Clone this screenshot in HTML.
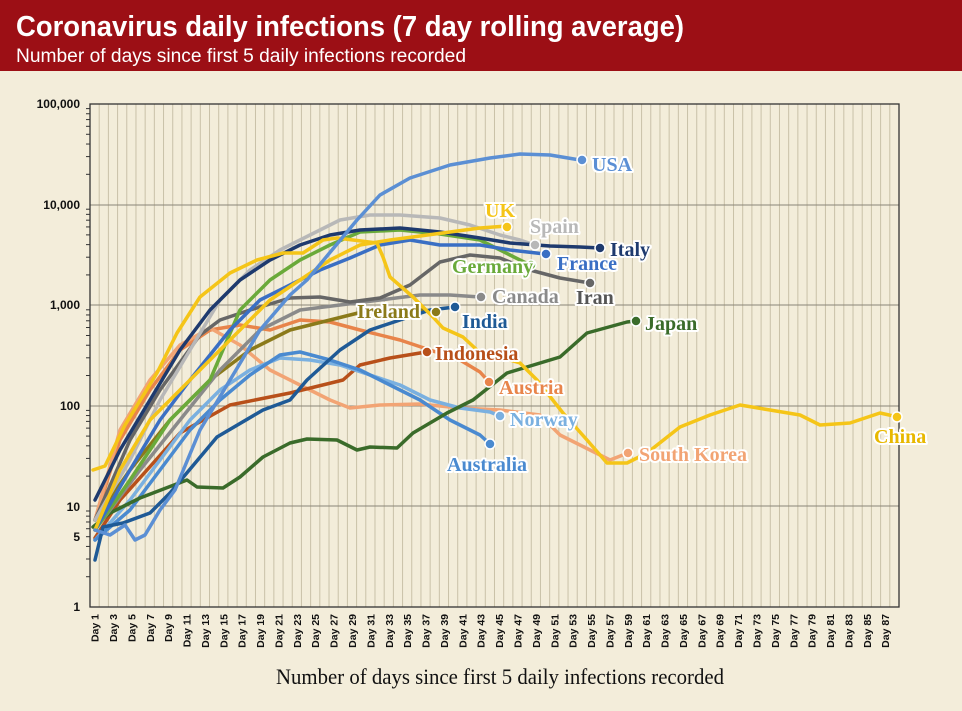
<!DOCTYPE html>
<html><head><meta charset="utf-8"><style>
body{margin:0;width:962px;height:706px;overflow:hidden;background:#f3edda;font-family:"Liberation Sans",sans-serif}
</style></head><body>
<svg width="962" height="706" xmlns="http://www.w3.org/2000/svg">
<rect width="962" height="706" fill="#f3edda"/>
<rect width="962" height="71" fill="#9c0f15"/>
<text x="16" y="36" fill="#fff" font-family="Liberation Sans" font-weight="bold" font-size="29" textLength="668" lengthAdjust="spacingAndGlyphs">Coronavirus daily infections (7 day rolling average)</text>
<text x="16" y="62" fill="#fff" font-family="Liberation Sans" font-size="19" textLength="450" lengthAdjust="spacingAndGlyphs">Number of days since first 5 daily infections recorded</text>
<g id="grid" stroke="#c9c1a8" stroke-width="1"></g>
<g stroke="#8a8578" stroke-width="1">
<line x1="90" y1="104" x2="899" y2="104"/><line x1="90" y1="205" x2="899" y2="205"/>
<line x1="90" y1="305" x2="899" y2="305"/><line x1="90" y1="406" x2="899" y2="406"/>
<line x1="90" y1="506" x2="899" y2="506"/>
</g>
<rect x="90" y="104" width="809" height="503" fill="none" stroke="#333" stroke-width="1.3"/>
<g id="ticks" stroke="#333" stroke-width="1"></g>
<g font-family="Liberation Sans" font-weight="bold" font-size="12" fill="#111" text-anchor="end">
<text x="80" y="108">100,000</text><text x="80" y="209">10,000</text><text x="80" y="309">1,000</text>
<text x="80" y="410">100</text><text x="80" y="511">10</text><text x="80" y="541">5</text><text x="80" y="611">1</text>
</g>
<g id="days" font-family="Liberation Sans" font-weight="bold" font-size="10.5" fill="#111" text-anchor="end"></g>
<text x="500" y="684" text-anchor="middle" font-family="Liberation Serif" font-size="22" fill="#111" textLength="448" lengthAdjust="spacingAndGlyphs">Number of days since first 5 daily infections recorded</text>
<g fill="none" stroke-width="3.5" stroke-linejoin="round" stroke-linecap="round">
<polyline stroke="#e8844a" points="95,520 120,440 150,390 180,350 210,330 240,325 270,330 300,320 330,322 360,330 400,340 430,350 460,360 480,372 489,382"/>
<polyline stroke="#f2a474" points="95,520 120,430 150,380 180,345 210,328 240,345 270,370 300,385 330,400 350,408 380,405 420,404 460,408 500,410 540,415 560,435 590,450 610,460 628,453"/>
<polyline stroke="#b8501a" points="95,538 120,500 147,470 180,433 230,405 290,393 343,380 360,365 390,358 426,352"/>
<polyline stroke="#8b7a1a" points="95,520 130,470 170,420 210,380 250,350 290,330 330,320 370,310 400,312 420,310 436,311"/>
<polyline stroke="#7ab0e0" points="95,540 130,500 160,460 190,420 220,390 250,370 280,358 310,360 340,365 370,375 400,385 430,400 460,408 490,412 500,416"/>
<polyline stroke="#4a8ad0" points="95,540 130,510 160,470 190,430 220,400 250,375 280,355 300,352 330,360 360,370 390,385 420,400 450,420 480,435 490,444"/>
<polyline stroke="#3a6b2a" points="93,527 110,513 140,498 187,480 197,487 223,488 240,477 263,457 290,443 307,439 337,440 357,450 370,447 397,448 413,433 447,413 473,400 507,373 560,357 587,333 627,322 636,321"/>
<polyline stroke="#1f5a96" points="95,560 103,527 123,523 150,513 170,493 217,437 263,410 290,400 307,380 340,350 370,330 400,320 430,310 455,307"/>
<polyline stroke="#8a8a8a" points="95,530 140,470 180,420 220,370 260,330 300,310 340,305 380,300 420,295 450,295 480,297"/>
<polyline stroke="#666" points="95,520 130,440 160,390 200,335 220,320 250,310 290,298 320,297 350,302 380,298 410,285 440,262 470,255 500,258 530,270 560,278 590,283"/>
<polyline stroke="#6aaa3a" points="95,530 130,480 170,420 210,380 240,310 270,280 300,260 330,245 360,232 400,230 440,234 480,240 510,255 530,265"/>
<polyline stroke="#3a6fc4" points="95,530 130,470 160,420 190,380 230,330 260,300 290,285 320,270 350,258 380,245 410,240 440,245 480,245 510,250 545,254"/>
<polyline stroke="#b8b8b8" points="95,520 130,460 160,400 190,350 220,300 250,270 280,250 310,235 340,220 370,215 400,215 440,218 470,225 500,235 520,240 535,245"/>
<polyline stroke="#1e3a6e" points="95,500 120,450 150,400 180,350 210,310 240,280 270,260 300,245 330,235 360,230 400,228 440,232 480,238 510,243 550,246 580,247 600,248"/>
<polyline stroke="#f5c518" points="93,470 105,466 125,425 157,373 177,333 200,297 230,273 257,260 283,253 303,253 323,240 337,238 377,243 383,257 390,277 413,297 433,317 443,328 463,337 477,350 520,363 537,380 563,413 587,440 607,463 627,463 647,453 680,427 710,415 740,405 770,410 800,415 820,425 850,423 880,413 898,417"/>
<polyline stroke="#f5c518" points="95,530 120,470 150,420 180,390 210,360 240,330 270,300 300,280 330,260 360,245 390,240 420,236 450,232 480,228 507,226"/>
<polyline stroke="#5b8fd4" points="95,530 110,535 125,525 135,540 145,535 160,510 175,490 200,430 230,380 260,330 290,295 307,280 357,220 380,195 410,178 450,165 490,158 520,154 550,155 580,160"/>
</g>
<g stroke="#fff" stroke-width="1.5">
<circle cx="582" cy="160" r="5" fill="#5b8fd4"/><circle cx="507" cy="227" r="5" fill="#f5c518"/>
<circle cx="535" cy="245" r="5" fill="#b8b8b8"/><circle cx="600" cy="248" r="5" fill="#1e3a6e"/>
<circle cx="546" cy="254" r="5" fill="#3a6fc4"/><circle cx="531" cy="265" r="5" fill="#6aaa3a"/>
<circle cx="590" cy="283" r="5" fill="#666"/><circle cx="481" cy="297" r="5" fill="#8a8a8a"/>
<circle cx="436" cy="312" r="5" fill="#8b7a1a"/><circle cx="455" cy="307" r="5" fill="#1f5a96"/>
<circle cx="636" cy="321" r="5" fill="#3a6b2a"/><circle cx="427" cy="352" r="5" fill="#b8501a"/>
<circle cx="489" cy="382" r="5" fill="#e8844a"/><circle cx="500" cy="416" r="5" fill="#7ab0e0"/>
<circle cx="490" cy="444" r="5" fill="#4a8ad0"/><circle cx="628" cy="453" r="5" fill="#f2a474"/>
<circle cx="897" cy="417" r="5" fill="#f5c518"/>
</g>
<g font-family="Liberation Serif" font-weight="bold" font-size="20" stroke="#fff" stroke-width="4" paint-order="stroke" stroke-linejoin="round">
<text x="592" y="171" fill="#5b8fd4">USA</text>
<text x="485" y="217" fill="#f5c518">UK</text>
<text x="530" y="233" fill="#b8b8b8">Spain</text>
<text x="610" y="256" fill="#1e3a6e">Italy</text>
<text x="557" y="270" fill="#3a6fc4">France</text>
<text x="452" y="273" fill="#6aaa3a">Germany</text>
<text x="576" y="304" fill="#555">Iran</text>
<text x="492" y="303" fill="#8a8a8a">Canada</text>
<text x="357" y="318" fill="#8b7a1a">Ireland</text>
<text x="462" y="328" fill="#1f5a96">India</text>
<text x="645" y="330" fill="#3a6b2a">Japan</text>
<text x="435" y="360" fill="#b8501a">Indonesia</text>
<text x="499" y="394" fill="#e8844a">Austria</text>
<text x="510" y="426" fill="#7ab0e0">Norway</text>
<text x="447" y="471" fill="#4a8ad0">Australia</text>
<text x="639" y="461" fill="#f2a474">South Korea</text>
<text x="874" y="443" fill="#e8b800">China</text>
</g>
</svg>
<script>
var ns="http://www.w3.org/2000/svg",g=document.getElementById("grid"),d=document.getElementById("days"),t=document.getElementById("ticks");
for(var k=1;k<88;k++){var x=90+k*9.193;var l=document.createElementNS(ns,"line");l.setAttribute("x1",x);l.setAttribute("x2",x);l.setAttribute("y1",104);l.setAttribute("y2",607);g.appendChild(l);}
for(var n=1;n<=87;n+=2){var x=94.6+(n-1)*9.193+4;var s=document.createElementNS(ns,"text");s.setAttribute("transform","translate("+x+",614) rotate(-90)");s.textContent="Day "+n;d.appendChild(s);}
for(var e=0;e<5;e++)for(var m=2;m<10;m++){var y=607-100.6*(e+Math.log10(m));var l=document.createElementNS(ns,"line");l.setAttribute("x1",86);l.setAttribute("x2",90);l.setAttribute("y1",y);l.setAttribute("y2",y);t.appendChild(l);}
</script>
</body></html>
